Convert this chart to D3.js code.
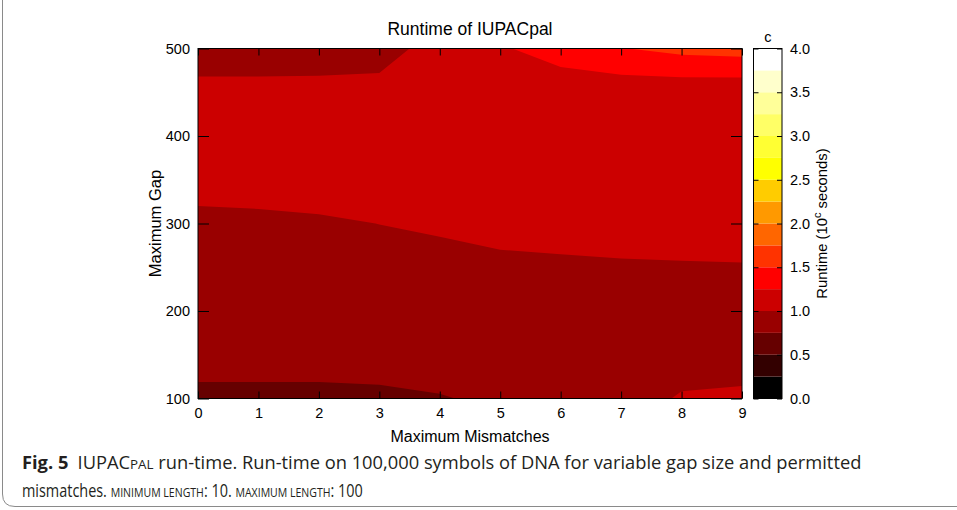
<!DOCTYPE html>
<html>
<head>
<meta charset="utf-8">
<script src="https://cdn.jsdelivr.net/npm/d3@7"></script>
<style>
  body { margin: 0; background: #fff; }
  svg { display: block; }
  .ax text { font-family: "Liberation Sans", Arial, sans-serif; font-size: 14.5px; fill: #000; }
  .ax line { stroke: #000; }
  .lbl { font-family: "Liberation Sans", Arial, sans-serif; fill: #000; }
  .cap { font-family: "Open Sans", sans-serif; fill: #231f20; }
</style>
</head>
<body>
<svg id="chart" width="957" height="510"></svg>
<script>
// x: maximum mismatches, y: maximum gap, value: runtime (log10 seconds)
const mismatches = [0, 1, 2, 3, 4, 5, 6, 7, 8, 9]
const gaps = [100, 150, 200, 250, 300, 350, 400, 450, 500]
// one row per gap, one value per mismatch count
const runtime = [
  [0.72, 0.72, 0.72, 0.725, 0.74, 0.78, 0.82, 0.95, 1.01, 1.02],
  [0.80, 0.80, 0.80, 0.805, 0.83, 0.86, 0.89, 0.93, 0.95, 0.95],
  [0.88, 0.88, 0.89, 0.90, 0.91, 0.93, 0.94, 0.96, 0.97, 0.97],
  [0.93, 0.935, 0.945, 0.955, 0.965, 0.98, 0.985, 0.99, 0.993, 0.995],
  [0.97, 0.975, 0.985, 1.001, 1.015, 1.03, 1.035, 1.04, 1.04, 1.04],
  [1.045, 1.05, 1.055, 1.06, 1.07, 1.07, 1.07, 1.07, 1.07, 1.07],
  [1.06, 1.06, 1.065, 1.075, 1.08, 1.09, 1.10, 1.08, 1.075, 1.07],
  [1.028, 1.028, 1.024, 1.055, 1.09, 1.12, 1.14, 1.09, 1.085, 1.07],
  [0.95, 0.95, 0.96, 0.93, 1.07, 1.23, 1.33, 1.49, 1.57, 1.60]
]
const levels = [0, 0.25, 0.5, 0.75, 1, 1.25, 1.5, 1.75, 2, 2.25, 2.5, 2.75, 3, 3.25, 3.5, 3.75]
const levelColors = ['#000000', '#330000', '#660000', '#990000', '#cc0000', '#ff0000', '#ff3300', '#ff6600',
  '#ff9900', '#ffcc00', '#ffff00', '#ffff33', '#ffff66', '#ffff99', '#ffffcc', '#ffffff']
const gapTicks = [100, 200, 300, 400, 500]
const runtimeTicks = [0, 0.5, 1, 1.5, 2, 2.5, 3, 3.5, 4]

const svg = d3.select('#chart')
const pLeft = 198, pRight = 742, pTop = 48.5, pBottom = 398.5

const x = d3.scaleLinear().domain([mismatches[0], mismatches[mismatches.length - 1]]).range([pLeft, pRight])
const y = d3.scaleLinear().domain([gaps[0], gaps[gaps.length - 1]]).range([pBottom, pTop])
// d3.contours puts value i at grid coord i + 0.5
const gx = d3.scaleLinear().domain([0.5, mismatches.length - 0.5]).range(x.domain())
const gy = d3.scaleLinear().domain([0.5, gaps.length - 0.5]).range(y.domain())

const proj = d3.geoTransform({
  point: function (px, py) { this.stream.point(x(gx(px)), y(gy(py))) }
})
const path = d3.geoPath(proj)

svg.append('clipPath').attr('id', 'plotclip')
  .append('rect')
    .attr('x', pLeft).attr('y', pTop)
    .attr('width', pRight - pLeft).attr('height', pBottom - pTop)

const contours = d3.contours()
  .size([mismatches.length, gaps.length])
  .thresholds(levels)(runtime.flat())

svg.append('g')
    .attr('clip-path', 'url(#plotclip)')
  .selectAll('path')
  .data(contours)
  .enter()
  .append('path')
    .attr('d', path)
    .attr('fill', (d, i) => levelColors[i])

// axes, ticks point inward like gnuplot
svg.append('g').attr('class', 'ax')
    .attr('transform', `translate(0,${pBottom})`)
    .call(d3.axisBottom(x).tickValues(mismatches).tickSizeInner(-7).tickSizeOuter(0).tickPadding(9))
    .call(g => g.select('.domain').remove())
svg.append('g').attr('class', 'ax')
    .attr('transform', `translate(0,${pTop})`)
    .call(d3.axisTop(x).tickValues(mismatches).tickSizeInner(-7).tickSizeOuter(0).tickFormat(''))
    .call(g => g.select('.domain').remove())
svg.append('g').attr('class', 'ax')
    .attr('transform', `translate(${pLeft},0)`)
    .call(d3.axisLeft(y).tickValues(gapTicks).tickSizeInner(-11).tickSizeOuter(0).tickPadding(8))
    .call(g => g.select('.domain').remove())
svg.append('g').attr('class', 'ax')
    .attr('transform', `translate(${pRight},0)`)
    .call(d3.axisRight(y).tickValues(gapTicks).tickSizeInner(-11).tickSizeOuter(0).tickFormat(''))
    .call(g => g.select('.domain').remove())

svg.append('rect')
    .attr('x', pLeft).attr('y', pTop)
    .attr('width', pRight - pLeft).attr('height', pBottom - pTop)
    .attr('fill', 'none').attr('stroke', '#000')

// colour box
const cbLeft = 753.5, cbRight = 782
const c = d3.scaleLinear().domain([0, 4]).range([pBottom, pTop])
svg.append('g')
  .selectAll('rect')
  .data(levels)
  .enter()
  .append('rect')
    .attr('x', cbLeft)
    .attr('width', cbRight - cbLeft)
    .attr('y', d => c(d + 0.25))
    .attr('height', d => c(d) - c(d + 0.25))
    .attr('fill', (d, i) => levelColors[i])
svg.append('g').attr('class', 'ax')
    .attr('transform', `translate(${cbRight},0)`)
    .call(d3.axisRight(c).tickValues(runtimeTicks).tickFormat(d3.format('.1f')).tickSizeInner(-5).tickSizeOuter(0).tickPadding(8))
    .call(g => g.select('.domain').remove())
svg.append('g').attr('class', 'ax')
    .attr('transform', `translate(${cbLeft},0)`)
    .call(d3.axisLeft(c).tickValues(runtimeTicks).tickSizeInner(-5).tickSizeOuter(0).tickFormat(''))
    .call(g => g.select('.domain').remove())
svg.append('rect')
    .attr('x', cbLeft).attr('y', pTop)
    .attr('width', cbRight - cbLeft).attr('height', pBottom - pTop)
    .attr('fill', 'none').attr('stroke', '#000')

// labels
svg.append('text').attr('class', 'lbl')
    .attr('x', (pLeft + pRight) / 2).attr('y', 35)
    .attr('text-anchor', 'middle').attr('font-size', 17.5)
    .text('Runtime of IUPACpal')
svg.append('text').attr('class', 'lbl')
    .attr('x', (pLeft + pRight) / 2).attr('y', 442)
    .attr('text-anchor', 'middle').attr('font-size', 16)
    .text('Maximum Mismatches')
svg.append('text').attr('class', 'lbl')
    .attr('transform', `translate(161,${(pTop + pBottom) / 2}) rotate(-90)`)
    .attr('text-anchor', 'middle').attr('font-size', 16.5)
    .text('Maximum Gap')
svg.append('text').attr('class', 'lbl')
    .attr('x', (cbLeft + cbRight) / 2).attr('y', 42)
    .attr('text-anchor', 'middle').attr('font-size', 14.5)
    .text('c')
const cbl = svg.append('text').attr('class', 'lbl')
    .attr('transform', `translate(827,${(pTop + pBottom) / 2}) rotate(-90)`)
    .attr('text-anchor', 'middle').attr('font-size', 14.8)
cbl.append('tspan').text('Runtime (10')
cbl.append('tspan').attr('dy', -6).attr('font-size', 11).text('c')
cbl.append('tspan').attr('dy', 6).text(' seconds)')

// caption and frame
svg.append('path')
    .attr('d', 'M2.5,0 V494 Q2.5,506.5 15,506.5 H957')
    .attr('fill', 'none').attr('stroke', '#8a8a8a')

function caption (yPos, parts, width) {
  const t = svg.append('text').attr('class', 'cap')
    .attr('font-size', 18.5)
  parts.forEach(p => {
    t.append('tspan')
      .attr('font-weight', p.bold ? 700 : 400)
      .attr('font-size', p.small ? 13.5 : 18.5)
      .text(p.s)
  })
  const w = t.node().getComputedTextLength()
  t.attr('transform', `translate(22,${yPos}) scale(${width / w},1)`)
}
caption(469, [
  {s: 'Fig. 5', bold: true},
  {s: '\u2002IUPAC'},
  {s: 'PAL', small: true},
  {s: ' run-time. Run-time on 100,000 symbols of DNA for variable gap size and permitted'}
], 840)
caption(497, [
  {s: 'mismatches. '},
  {s: 'MINIMUM LENGTH', small: true},
  {s: ': 10. '},
  {s: 'MAXIMUM LENGTH', small: true},
  {s: ': 100'}
], 341)
</script>
</body>
</html>
